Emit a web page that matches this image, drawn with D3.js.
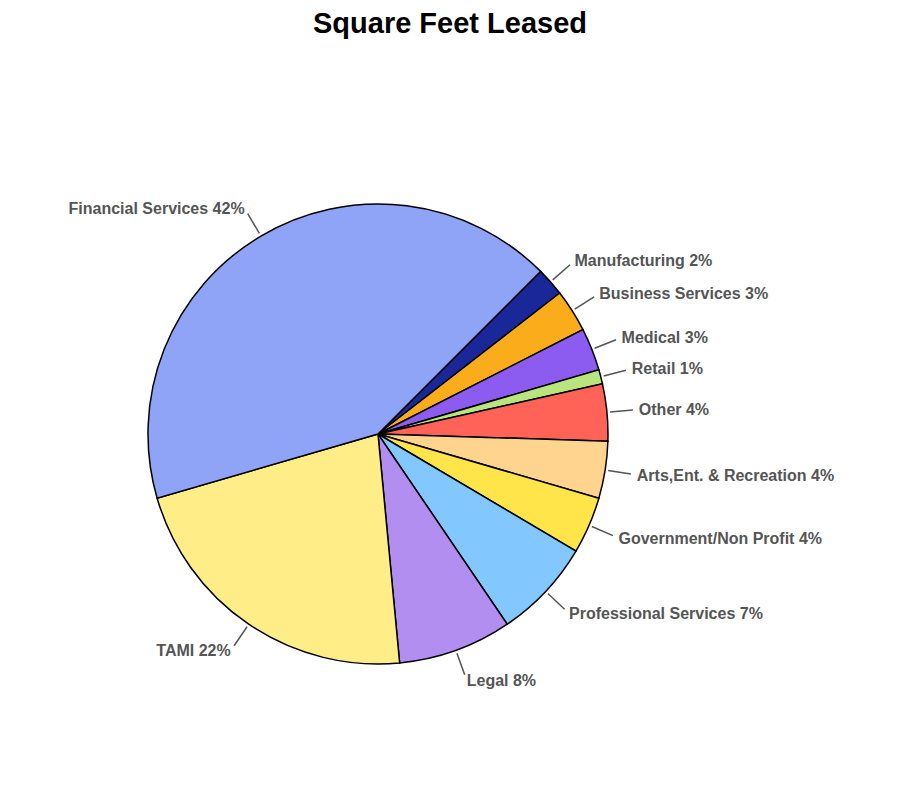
<!DOCTYPE html>
<html><head><meta charset="utf-8">
<script src="https://cdn.jsdelivr.net/npm/d3@7"></script>
<style>body{margin:0;background:#fff}</style>
</head><body>
<svg id="c" width="900" height="800"></svg>
<script>
const categories = ["Manufacturing","Business Services","Medical","Retail","Other","Arts,Ent. & Recreation","Government/Non Profit","Professional Services","Legal","TAMI","Financial Services"];
const values = [2,3,3,1,4,4,4,7,8,22,42];
const colors = ["#1a2799","#fbac1b","#8c5bef","#b9e57f","#ff6357","#ffd48f","#ffe44a","#82c8ff","#b38ef1","#ffee88","#8fa4f7"];
const svg = d3.select("#c");
svg.append("text").attr("x",450).attr("y",33).attr("text-anchor","middle")
  .attr("font-family","Arial, Liberation Sans, sans-serif").attr("font-weight","bold").attr("font-size",29).text("Square Feet Leased");
const cx=378, cy=434, R=230;
const start = 45*Math.PI/180;
const pie = d3.pie().sort(null).startAngle(start).endAngle(start+2*Math.PI);
const arcs = pie(values);
const g = svg.append("g").attr("transform",`translate(${cx},${cy})`);
const arc = d3.arc().innerRadius(0).outerRadius(R);
g.selectAll("path").data(arcs).join("path").attr("d",arc)
  .attr("fill",(d,i)=>colors[i]).attr("stroke","#000").attr("stroke-width",1.5);
const pt=(a,r)=>[Math.sin(a)*r,-Math.cos(a)*r];
arcs.forEach((d,i)=>{
  const a=(d.startAngle+d.endAngle)/2;
  const p1=pt(a,R+3), p2=pt(a,R+26), p3=pt(a,R+32);
  g.append("line").attr("x1",p1[0]).attr("y1",p1[1]).attr("x2",p2[0]).attr("y2",p2[1]).attr("stroke","#555").attr("stroke-width",1.5);
  const right = Math.sin(a)>0;
  g.append("text").attr("x",p3[0]).attr("y",p3[1]).attr("dy","0.35em")
    .attr("text-anchor",right?"start":"end")
    .attr("font-family","Arial, Liberation Sans, sans-serif").attr("font-weight","bold").attr("font-size",16)
    .attr("fill","#555").text(categories[i]+" "+values[i]+"%");
});
</script>
</body></html>
